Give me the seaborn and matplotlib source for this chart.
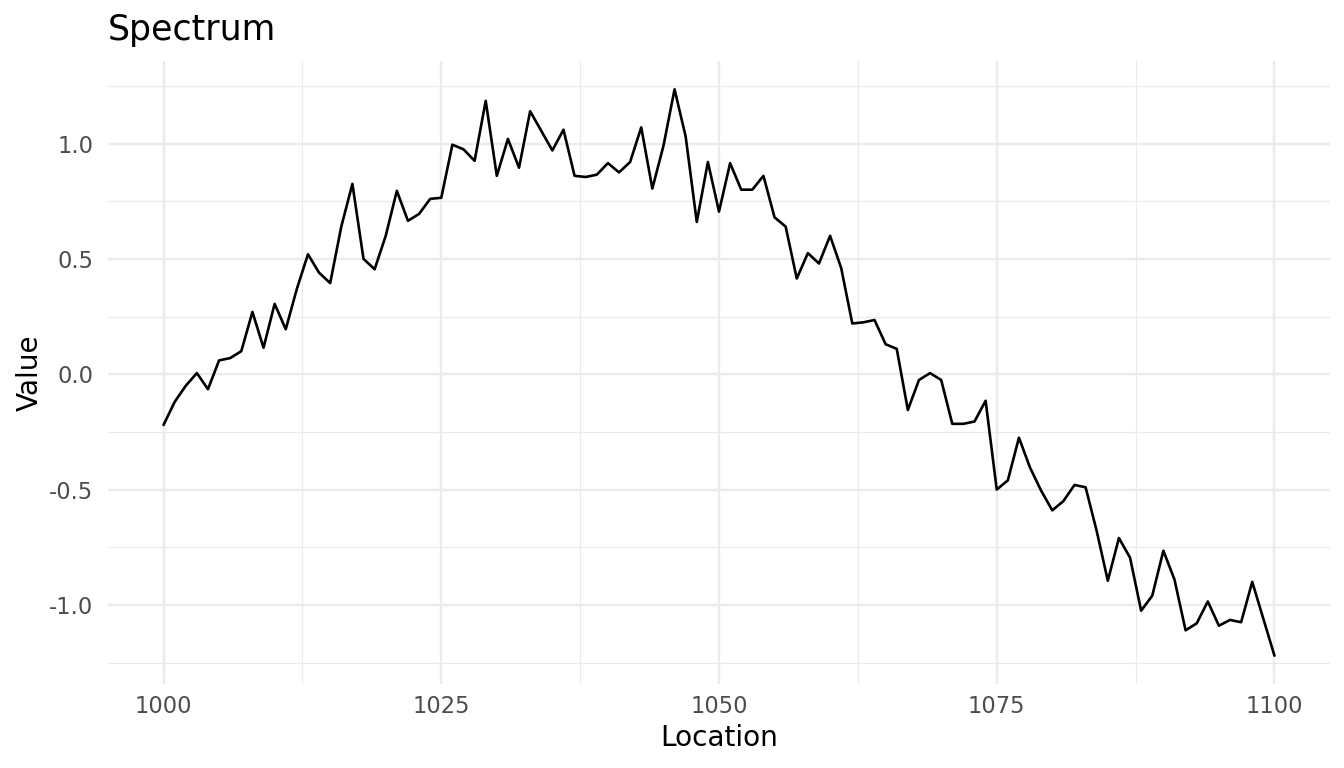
import numpy as np
import pandas as pd
import matplotlib
matplotlib.use("Agg")
import matplotlib.pyplot as plt
from matplotlib.ticker import FixedLocator
import seaborn as sns

location = list(range(1000, 1101))
value = [
    -0.22, -0.12, -0.05, 0.005, -0.065, 0.06, 0.07, 0.10, 0.27, 0.115,
    0.305, 0.195, 0.37, 0.52, 0.44, 0.395, 0.64, 0.825, 0.50, 0.455,
    0.60, 0.795, 0.665, 0.695, 0.76, 0.765, 0.995, 0.975, 0.925, 1.185,
    0.86, 1.02, 0.895, 1.14, 1.055, 0.97, 1.06, 0.86, 0.855, 0.865,
    0.915, 0.875, 0.92, 1.07, 0.805, 0.99, 1.235, 1.03, 0.66, 0.92,
    0.705, 0.915, 0.80, 0.80, 0.86, 0.68, 0.64, 0.415, 0.525, 0.48,
    0.60, 0.46, 0.22, 0.225, 0.235, 0.13, 0.11, -0.155, -0.025, 0.005,
    -0.025, -0.215, -0.215, -0.205, -0.115, -0.50, -0.46, -0.275, -0.405, -0.505,
    -0.59, -0.55, -0.48, -0.49, -0.68, -0.895, -0.71, -0.795, -1.025, -0.96,
    -0.765, -0.89, -1.11, -1.08, -0.985, -1.09, -1.065, -1.075, -0.90, -1.06,
    -1.22,
]
x_ticks = [1000, 1025, 1050, 1075, 1100]
y_ticks = [-1.0, -0.5, 0.0, 0.5, 1.0]

df = pd.DataFrame({"Location": location, "Value": value})

sns.set_theme(style="white")
plt.rcParams["font.family"] = ["DejaVu Sans"]
plt.rcParams["axes.unicode_minus"] = False

fig = plt.figure(figsize=(13.44, 7.68), dpi=100)
ax = fig.add_axes([108 / 1344, 84 / 768, 1222 / 1344, 623 / 768])

sns.lineplot(data=df, x="Location", y="Value", ax=ax, color="black", linewidth=1.9)

xmin, xmax = min(location), max(location)
ymin, ymax = min(value), max(value)
xr, yr = xmax - xmin, ymax - ymin
ax.set_xlim(xmin - 0.05 * xr, xmax + 0.05 * xr)
ax.set_ylim(ymin - 0.05 * yr, ymax + 0.05 * yr)

ax.xaxis.set_major_locator(FixedLocator(x_ticks))
ax.yaxis.set_major_locator(FixedLocator(y_ticks))
ax.xaxis.set_minor_locator(FixedLocator([987.5, 1012.5, 1037.5, 1062.5, 1087.5]))
ax.yaxis.set_minor_locator(FixedLocator([-1.25, -0.75, -0.25, 0.25, 0.75, 1.25]))
ax.set_xticklabels([str(t) for t in x_ticks])
ax.set_yticklabels([f"{t:.1f}" for t in y_ticks])

ax.grid(which="major", color="#EBEBEB", linewidth=1.7)
ax.grid(which="minor", color="#EBEBEB", linewidth=0.9)
ax.set_axisbelow(True)
for s in ax.spines.values():
    s.set_visible(False)

ax.tick_params(axis="both", which="both", length=0, labelsize=16.3, labelcolor="#4D4D4D")
ax.tick_params(axis="x", pad=8)
ax.tick_params(axis="y", pad=10.5)

ax.set_xlabel("Location", fontsize=20.2, color="black", labelpad=4)
ax.set_ylabel("Value", fontsize=20.2, color="black", labelpad=4)
ax.set_title("Spectrum", fontsize=25, loc="left", x=0.0, pad=15, color="black")

fig.savefig("out.png", dpi=100)
